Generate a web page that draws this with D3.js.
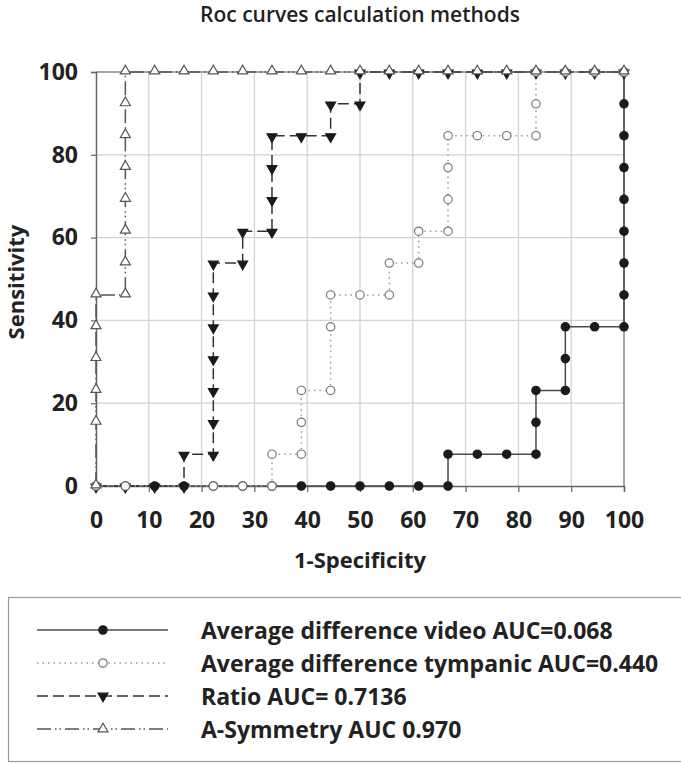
<!DOCTYPE html>
<html>
<head>
<meta charset="utf-8">
<script src="https://cdn.jsdelivr.net/npm/d3@7"></script>
<style>
  body { margin: 0; background: #fff; }
  text { font-family: "Open Sans", sans-serif; font-weight: 700; fill: #222; }
</style>
</head>
<body>
<div id="my_dataviz"></div>
<script>

// Data: ROC points [1-specificity, sensitivity] for each method
var videoPts = [[0,0],[5.56,0],[11.11,0],[16.67,0],[22.22,0],[27.78,0],[33.33,0],[38.89,0],[44.44,0],[50,0],[55.56,0],[61.11,0],[66.67,0],
  [66.67,7.69],[72.22,7.69],[77.78,7.69],[83.33,7.69],[83.33,15.38],[83.33,23.08],[88.89,23.08],[88.89,30.77],[88.89,38.46],
  [94.44,38.46],[100,38.46],[100,46.15],[100,53.85],[100,61.54],[100,69.23],[100,76.92],[100,84.62],[100,92.31],[100,100]]

var tympanicPts = [[0,0],[5.56,0],[22.22,0],[27.78,0],[33.33,0],[33.33,7.69],[38.89,7.69],[38.89,15.38],[38.89,23.08],
  [44.44,23.08],[44.44,38.46],[44.44,46.15],[50,46.15],[55.56,46.15],[55.56,53.85],[61.11,53.85],[61.11,61.54],[66.67,61.54],
  [66.67,69.23],[66.67,76.92],[66.67,84.62],[72.22,84.62],[77.78,84.62],[83.33,84.62],[83.33,92.31],[83.33,100],
  [88.89,100],[94.44,100],[100,100]]

var ratioPts = [[0,0],[5.56,0],[11.11,0],[16.67,0],[16.67,7.69],[22.22,7.69],[22.22,15.38],[22.22,23.08],[22.22,30.77],
  [22.22,38.46],[22.22,46.15],[22.22,53.85],[27.78,53.85],[27.78,61.54],[33.33,61.54],[33.33,69.23],[33.33,76.92],
  [33.33,84.62],[38.89,84.62],[44.44,84.62],[44.44,92.31],[50,92.31],[50,100],[55.56,100],[61.11,100],[66.67,100],
  [72.22,100],[77.78,100],[83.33,100],[88.89,100],[94.44,100],[100,100]]

var asymPts = [[0,0],[0,15.38],[0,23.08],[0,30.77],[0,38.46],[0,46.15],[5.56,46.15],[5.56,53.85],[5.56,61.54],[5.56,69.23],
  [5.56,76.92],[5.56,84.62],[5.56,92.31],[5.56,100],[11.11,100],[16.67,100],[22.22,100],[27.78,100],[33.33,100],[38.89,100],
  [44.44,100],[50,100],[55.56,100],[61.11,100],[66.67,100],[72.22,100],[77.78,100],[83.33,100],[88.89,100],[94.44,100],[100,100]]

var seriesNames = ["Average difference video AUC=0.068", "Average difference tympanic AUC=0.440",
                   "Ratio AUC= 0.7136", "A-Symmetry AUC 0.970"]

var xTicks = [0,10,20,30,40,50,60,70,80,90,100]
var yTicks = [0,20,40,60,80,100]

// series styles (drawing order = video, ratio, tympanic, asymmetry)
var styles = [
  {pts: videoPts,    name: seriesNames[0], line: "#4a4a4a", dash: null,              sym: d3.symbolCircle,   rot: 0,   fill: "#1a1a1a", stroke: "#1a1a1a", size: 55},
  {pts: tympanicPts, name: seriesNames[1], line: "#9a9a9a", dash: "1.5,4",           sym: d3.symbolCircle,   rot: 0,   fill: "#fff",    stroke: "#777",    size: 55},
  {pts: ratioPts,    name: seriesNames[2], line: "#333",    dash: "11,5",            sym: d3.symbolTriangle, rot: 180, fill: "#1a1a1a", stroke: "#1a1a1a", size: 42},
  {pts: asymPts,     name: seriesNames[3], line: "#555",    dash: "14,4,1.5,3,1.5,4", sym: d3.symbolTriangle, rot: 0,   fill: "#fff",    stroke: "#555",    size: 44}
]
var drawOrder = [0, 2, 1, 3]

var margin = {top: 72, right: 57, bottom: 279, left: 96},
    width = 681 - margin.left - margin.right,
    height = 765 - margin.top - margin.bottom;

var svgRoot = d3.select("#my_dataviz")
  .append("svg")
  .attr("width", 681)
  .attr("height", 765)

var svg = svgRoot.append("g")
  .attr("transform", "translate(" + margin.left + "," + margin.top + ")");

var x = d3.scaleLinear().domain([0, 100]).range([0, width])
var y = d3.scaleLinear().domain([0, 100]).range([height, 0])

// title
svgRoot.append("text")
  .attr("x", 360).attr("y", 22)
  .attr("text-anchor", "middle")
  .style("font-size", "21px")
  .style("font-weight", 600)
  .text("Roc curves calculation methods")

// grid
svg.selectAll(".vgrid")
  .data(xTicks.slice(1, -1)).enter()
  .append("line")
  .attr("x1", function(d) { return x(d) }).attr("x2", function(d) { return x(d) })
  .attr("y1", 0).attr("y2", height)
  .style("stroke", "#d2d2d2").style("stroke-width", 1.3)

svg.selectAll(".hgrid")
  .data(yTicks.slice(1, -1)).enter()
  .append("line")
  .attr("x1", 0).attr("x2", width)
  .attr("y1", function(d) { return y(d) }).attr("y2", function(d) { return y(d) })
  .style("stroke", "#d2d2d2").style("stroke-width", 1.3)

// plot border right / top
svg.append("line").attr("x1", x(100)).attr("x2", x(100)).attr("y1", 0).attr("y2", height)
  .style("stroke", "#888").style("stroke-width", 1.5)
svg.append("line").attr("x1", 0).attr("x2", width).attr("y1", 0).attr("y2", 0)
  .style("stroke", "#888").style("stroke-width", 1.5)

// axes
var xAxis = svg.append("g")
  .attr("transform", "translate(0," + height + ")")
  .call(d3.axisBottom(x).tickValues(xTicks).tickSize(6).tickPadding(20).tickFormat(d3.format("d")))
var yAxis = svg.append("g")
  .call(d3.axisLeft(y).tickValues(yTicks).tickSize(5).tickPadding(13).tickFormat(d3.format("d")))

;[xAxis, yAxis].forEach(function(a) {
  a.select(".domain").style("stroke", "#666").style("stroke-width", 1.5)
  a.selectAll(".tick line").style("stroke", "#666").style("stroke-width", 1.2)
  a.selectAll(".tick text").style("font-size", "23px").style("font-family", "'Open Sans', sans-serif")
    .style("font-weight", 700).style("fill", "#222")
})

// axis titles
svgRoot.append("text")
  .attr("x", 360).attr("y", 568)
  .attr("text-anchor", "middle")
  .style("font-size", "22px")
  .text("1-Specificity")

svgRoot.append("text")
  .attr("transform", "translate(24,282) rotate(-90)")
  .attr("text-anchor", "middle")
  .style("font-size", "22px")
  .text("Sensitivity")

// lines
var line = d3.line()
  .x(function(d) { return x(d[0]) })
  .y(function(d) { return y(d[1]) })

drawOrder.forEach(function(i) {
  var s = styles[i]
  svg.append("path")
    .datum(s.pts)
    .attr("d", line)
    .style("fill", "none")
    .style("stroke", s.line)
    .style("stroke-width", 1.5)
    .style("stroke-dasharray", s.dash)
})

// markers
drawOrder.forEach(function(i) {
  var s = styles[i]
  svg.selectAll(".m" + i)
    .data(s.pts).enter()
    .append("path")
    .attr("class", "m" + i)
    .attr("d", d3.symbol().type(s.sym).size(s.size))
    .attr("transform", function(d) {
      var dy = s.sym === d3.symbolTriangle ? (s.rot ? 1 : -1) : 0
      return "translate(" + x(d[0]) + "," + (y(d[1]) + dy) + ") rotate(" + s.rot + ")"
    })
    .style("fill", s.fill)
    .style("stroke", s.stroke)
    .style("stroke-width", 1.2)
})

// legend box
svgRoot.append("rect")
  .attr("x", 8.5).attr("y", 597.5)
  .attr("width", 700).attr("height", 164)
  .style("fill", "none").style("stroke", "#999").style("stroke-width", 1.2)

var legend = svgRoot.selectAll(".legend")
  .data(styles).enter()
  .append("g")
  .attr("transform", function(d, i) { return "translate(0," + (630 + i * 33) + ")" })

legend.append("line")
  .attr("x1", 37).attr("x2", 168).attr("y1", 0).attr("y2", 0)
  .style("stroke", function(d) { return d.line })
  .style("stroke-width", 1.5)
  .style("stroke-dasharray", function(d) { return d.dash })

legend.append("path")
  .attr("d", function(d) { return d3.symbol().type(d.sym).size(d.size)() })
  .attr("transform", function(d) { return "translate(103,0) rotate(" + d.rot + ")" })
  .style("fill", function(d) { return d.fill })
  .style("stroke", function(d) { return d.stroke })
  .style("stroke-width", 1.2)

legend.append("text")
  .attr("x", 201).attr("y", 9)
  .style("font-size", "23px")
  .text(function(d) { return d.name })

</script>
</body>
</html>
